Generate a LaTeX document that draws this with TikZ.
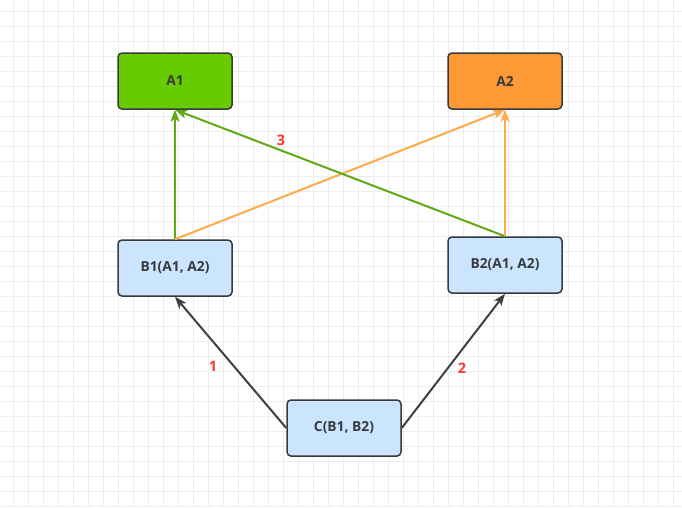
\documentclass[tikz,border=0pt]{standalone}
\usepackage{fontspec}
\setmainfont{Open Sans}
\usetikzlibrary{arrows.meta}
\definecolor{gridc}{HTML}{EDEDED}
\definecolor{strokec}{HTML}{36393D}
\definecolor{greenf}{HTML}{66CC00}
\definecolor{orangef}{HTML}{FF9933}
\definecolor{bluef}{HTML}{CCE5FF}
\definecolor{greene}{HTML}{60A917}
\definecolor{orangee}{HTML}{FFAA4D}
\definecolor{darke}{HTML}{404040}
\definecolor{redl}{HTML}{FF3333}
\tikzset{
  box/.style={draw=strokec, line width=1.5pt, rounded corners=4pt, minimum width=114pt, minimum height=56pt, inner sep=0pt, font=\fontsize{13.8}{16}\selectfont\bfseries, text=strokec},
  edge/.style={line width=2pt, -{Stealth[length=12pt,width=9pt,inset=3pt]}},
  lab/.style={font=\fontsize{14.5}{16}\selectfont\bfseries, text=redl, inner sep=0pt}
}
\begin{document}
\begin{tikzpicture}[x=1pt,y=-1pt]
\useasboundingbox (0,0) rectangle (682,507);
\fill[white] (0,0) rectangle (682,507);
\foreach \i in {0,...,45} {\draw[gridc, line width=0.9pt] ({13.3+15*\i},0) -- ({13.3+15*\i},507);}
\foreach \j in {0,...,33} {\draw[gridc, line width=0.9pt] (0,{11.7+15*\j}) -- (682,{11.7+15*\j});}
\node[box, fill=greenf] (a1) at (175,81) {A1};
\node[box, fill=orangef] (a2) at (505,81) {A2};
\node[box, fill=bluef] (b1) at (175,268) {B1(A1, A2)};
\node[box, fill=bluef] (b2) at (505,265) {B2(A1, A2)};
\node[box, fill=bluef] (c) at (344,428) {C(B1, B2)};
\draw[edge, greene] (b1.north) -- (a1.south);
\draw[edge, orangee] (b1.north) -- (a2.south);
\draw[edge, greene] (b2.north) -- (a1.south);
\draw[edge, orangee] (b2.north) -- (a2.south);
\draw[edge, darke] (c.west) -- (b1.south);
\draw[edge, darke] (c.east) -- (b2.south);
\node[lab] (l3) at (281,140) {3};
\node[lab] (l1) at (213,366) {1};
\node[lab] (l2) at (462,368) {2};
\end{tikzpicture}
\end{document}
